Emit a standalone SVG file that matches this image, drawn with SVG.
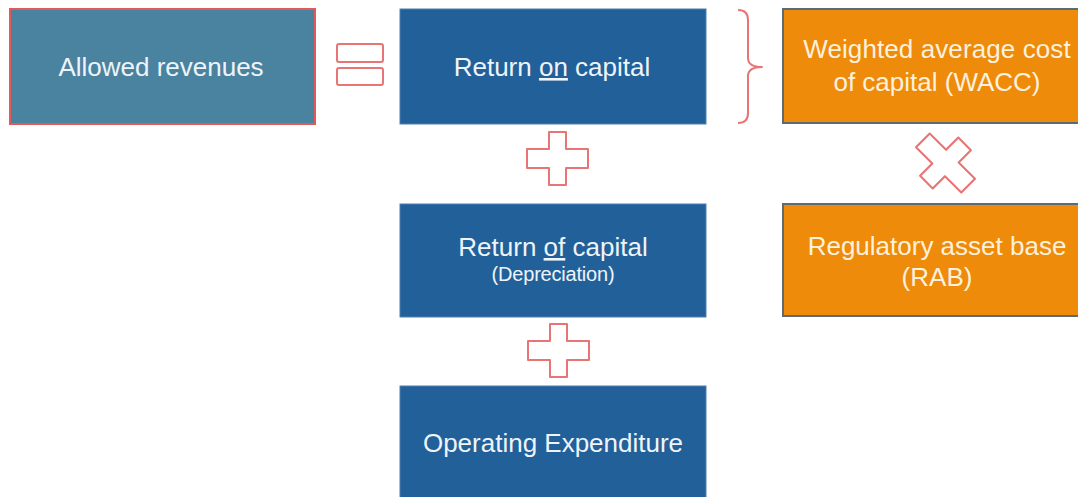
<svg xmlns="http://www.w3.org/2000/svg" width="1078" height="497" viewBox="0 0 1078 497">
  <style>
    .lbl { font-family: "Liberation Sans", Arial, sans-serif; text-anchor: middle; font-size: 26px; }
    .blue { fill: #22609a; stroke: #4f7fae; stroke-width: 1; }
    .teal { fill: #4a83a0; stroke: #e05a5a; stroke-width: 2; }
    .orange { fill: #ee8b0b; stroke: #5c6a74; stroke-width: 2; }
    .wt { fill: #eef4f9; }
    .ot { fill: #fdf1de; }
    .op { fill: none; stroke: #e87474; stroke-width: 2; stroke-linejoin: round; }
  </style>
  <defs>
    <!-- plus operator centred on the origin -->
    <path id="plus" d="M -8.5,-26.5 H 8.5 V -9.5 H 30.5 V 9.5 H 8.5 V 26.5 H -8.5 V 9.5 H -30.5 V -9.5 H -8.5 Z"/>
  </defs>

  <rect width="1078" height="497" fill="#ffffff"/>

  <g id="allowed-revenues">
    <rect class="teal" x="10" y="9" width="305" height="115"/>
    <text class="lbl wt" x="161" y="76">Allowed revenues</text>
  </g>

  <g id="return-on-capital">
    <rect class="blue" x="400" y="9" width="306" height="115"/>
    <text class="lbl wt" x="552" y="76">Return <tspan text-decoration="underline">on</tspan> capital</text>
  </g>

  <g id="wacc">
    <rect class="orange" x="783" y="9" width="306" height="114"/>
    <text class="lbl ot" x="937" y="58" letter-spacing="0.1">Weighted average cost</text>
    <text class="lbl ot" x="937" y="91">of capital (WACC)</text>
  </g>

  <g id="return-of-capital">
    <rect class="blue" x="400" y="204" width="306" height="113"/>
    <text class="lbl wt" x="553" y="256">Return <tspan text-decoration="underline">of</tspan> capital</text>
    <text class="lbl wt" x="553" y="281" font-size="20" letter-spacing="-0.2" style="font-size:20px">(Depreciation)</text>
  </g>

  <g id="rab">
    <rect class="orange" x="783" y="204" width="306" height="112"/>
    <text class="lbl ot" x="937" y="255">Regulatory asset base</text>
    <text class="lbl ot" x="937" y="286">(RAB)</text>
  </g>

  <g id="operating-expenditure">
    <rect class="blue" x="400" y="386" width="306" height="115"/>
    <text class="lbl wt" x="553" y="452">Operating Expenditure</text>
  </g>

  <g id="connectors">
    <!-- equals -->
    <rect class="op" x="337" y="44" width="46" height="18" rx="2"/>
    <rect class="op" x="337" y="68" width="46" height="17" rx="2"/>
    <!-- brace grouping the return on capital -->
    <path class="op" d="M 738,10 Q 748,10 748,20 V 58 Q 748,67 762,67 Q 748,67 748,76 V 113 Q 748,123 738,123"/>
    <!-- plus signs -->
    <use href="#plus" class="op" x="557.5" y="158.5"/>
    <use href="#plus" class="op" x="558.5" y="350.5"/>
    <!-- times -->
    <use href="#plus" class="op" transform="translate(945.5 163) rotate(45) scale(1.05 1.02)"/>
  </g>
</svg>
